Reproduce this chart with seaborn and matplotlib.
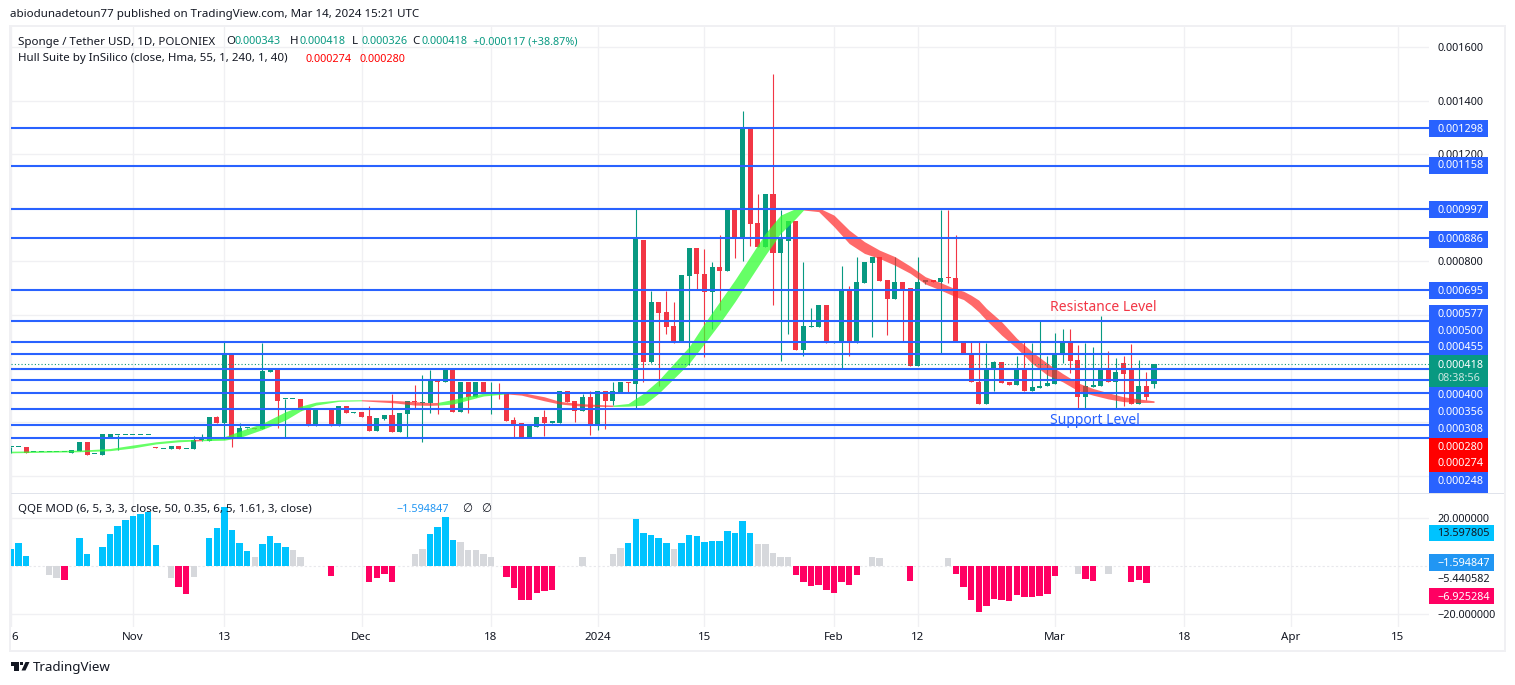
import numpy as np
import pandas as pd
import matplotlib
matplotlib.use("Agg")
import matplotlib.pyplot as plt
from matplotlib.patches import Rectangle, Polygon
import seaborn as sns

# all prices are in millionths of USDT, days count from Oct 16 2023
PRICE_UNIT = 1e-6

opens = [106, 106, 106, 88, 88, 88, 88, 88, 86, 94, 126, 80, 79, 143, 153, 154, 154, 154, 154, 106,
         101, 101, 111, 101, 101, 132, 131, 218, 198, 451, 140, 177, 177, 176, 387, 395, 285, 285, 285, 248,
         187, 246, 248, 187, 260, 236, 237, 223, 168, 212, 227, 165, 232, 279, 273, 273, 360, 352, 395, 239,
         351, 295, 351, 310, 310, 311, 208, 197, 143, 183, 218, 199, 198, 316, 279, 243, 294, 188, 316, 280,
         314, 349, 344, 881, 426, 647, 610, 559, 500, 747, 849, 755, 687, 778, 765, 998, 892, 1299, 943, 855,
         1052, 833, 876, 951, 471, 557, 557, 636, 498, 497, 694, 497, 721, 796, 816, 731, 661, 723, 701, 411,
         725, 726, 724, 738, 738, 500, 457, 352, 269, 397, 423, 350, 340, 395, 318, 329, 336, 344, 456, 500,
         432, 295, 331, 336, 401, 352, 420, 396, 269, 335, 343]
highs = [106, 107, 106, 88, 88, 88, 88, 88, 96, 126, 126, 81, 156, 156, 154, 154, 154, 154, 154, 106,
         102, 111, 111, 102, 148, 156, 219, 223, 499, 451, 196, 178, 177, 497, 395, 395, 285, 285, 285, 248,
         246, 246, 248, 260, 260, 237, 237, 260, 216, 227, 305, 233, 279, 339, 375, 395, 360, 395, 395, 351,
         351, 351, 351, 351, 345, 311, 218, 197, 186, 218, 244, 200, 316, 316, 279, 304, 315, 316, 316, 351,
         351, 349, 996, 881, 691, 647, 690, 647, 749, 849, 849, 845, 798, 897, 998, 998, 1361, 1299, 1050, 1052,
         1499, 992, 951, 951, 798, 626, 636, 636, 499, 783, 708, 816, 798, 816, 816, 731, 816, 723, 701, 816,
         726, 726, 992, 992, 897, 500, 502, 502, 497, 427, 423, 350, 447, 505, 497, 580, 447, 533, 548, 548,
         488, 497, 481, 595, 466, 439, 447, 492, 432, 387, 418]
lows = [86, 106, 86, 88, 88, 88, 88, 88, 86, 94, 79, 80, 79, 143, 96, 153, 153, 153, 153, 105,
        101, 101, 101, 101, 101, 131, 131, 198, 136, 109, 140, 176, 176, 176, 387, 180, 143, 285, 247, 187,
        187, 246, 187, 187, 234, 236, 219, 168, 168, 208, 165, 165, 140, 248, 127, 236, 232, 352, 239, 239,
        236, 295, 308, 232, 287, 206, 143, 143, 143, 183, 148, 199, 198, 277, 202, 243, 153, 172, 176, 263,
        314, 308, 249, 351, 420, 336, 530, 494, 500, 413, 696, 445, 549, 620, 765, 814, 802, 859, 855, 855,
        639, 430, 530, 471, 449, 557, 557, 497, 497, 402, 449, 497, 721, 519, 728, 527, 661, 500, 411, 411,
        717, 724, 458, 721, 500, 456, 351, 269, 269, 318, 347, 340, 340, 318, 318, 329, 336, 344, 422, 385,
        249, 249, 331, 336, 352, 249, 262, 269, 269, 283, 326]
closes = [106, 107, 86, 88, 88, 88, 88, 88, 96, 126, 79, 81, 156, 156, 154, 154, 154, 154, 154, 105,
          102, 111, 101, 102, 134, 134, 219, 198, 451, 139, 177, 178, 176, 390, 395, 280, 285, 285, 247, 187,
          246, 246, 187, 260, 234, 237, 219, 168, 216, 227, 165, 233, 279, 277, 274, 360, 352, 395, 239, 351,
          295, 351, 308, 310, 307, 206, 193, 143, 186, 218, 198, 200, 316, 277, 243, 294, 188, 316, 279, 316,
          351, 348, 884, 426, 647, 609, 556, 500, 749, 849, 754, 687, 778, 765, 998, 892, 1299, 941, 855, 1052,
          833, 885, 951, 471, 559, 558, 636, 497, 499, 694, 497, 723, 798, 816, 728, 661, 723, 696, 411, 723,
          726, 725, 738, 737, 500, 456, 351, 269, 398, 425, 347, 340, 397, 318, 330, 337, 346, 456, 500, 429,
          295, 335, 339, 401, 352, 387, 381, 269, 335, 294, 418]

hull_days = [0, 9, 13, 16, 19, 22, 24, 25, 28, 30, 33, 36, 38, 40, 43, 46, 50, 53, 55, 56, 58, 60, 62, 65,
             67, 70, 72, 75, 78, 79, 81, 83, 85, 87, 89, 91, 93, 95, 97, 99, 101, 103, 104, 106, 108, 110,
             112, 114, 116, 118, 120, 122, 124, 125, 126, 127, 128, 130, 132, 134, 136, 138, 140, 142, 144,
             146, 148, 150]
hull_top = [92, 96, 102, 115, 127, 135, 136, 136, 146, 167, 196, 239, 260, 275, 283, 284, 282, 277, 273, 274, 285,
            298, 308, 313, 311, 295, 278, 269, 265, 264, 270, 308, 357, 420, 482, 569, 650, 731, 818, 905, 973,
            998, 1000, 1000, 973, 917, 874, 842, 818, 783, 743, 721, 697, 689, 674, 656, 625, 575, 513, 463, 420,
            382, 347, 326, 310, 295, 287, 280]
hull_bot = [86, 90, 94, 104, 119, 127, 130, 131, 133, 143, 173, 208, 242, 264, 278, 280, 273, 264, 263, 264, 268,
            283, 298, 306, 301, 280, 268, 260, 259, 259, 260, 264, 308, 364, 420, 494, 569, 650, 737, 824, 905,
            961, 992, 986, 930, 867, 830, 811, 786, 756, 716, 693, 668, 658, 637, 612, 581, 525, 476, 420, 376,
            351, 318, 301, 287, 277, 274, 274]
hull_colors = ["g"] * 6 + ["r"] + ["g"] * 8 + ["r"] * 4 + ["g"] * 4 + ["r"] * 6 + ["g"] * 13 + ["r"] * 26

level_prices = [1298, 1158, 997, 886, 695, 577, 500, 455, 400, 356, 308, 248, 189, 140]

# QQE histogram, day by day, None where nothing is drawn
qqe_values = [7.2, 9.7, 4.3, None, None, -3.6, -4.8, -5.7, None, 11.7, 5.1, None, 8.0, 13.4, 16.7, 19.2, 20.8,
              21.7, 22.6, 8.8, None, -4.8, -8.6, -11.5, -4.4, None, 11.7, 15.9, 24.6, 15.0, 9.7, 6.3, 3.9, 9.2,
              12.6, 9.7, 8.0, 6.8, 3.9, None, None, None, -4.0, None, None, None, None, -6.5, -4.8, -3.2, -6.5,
              None, None, 5.1, 7.2, 13.4, 16.3, 20.4, 10.9, 10.1, 6.8, 6.8, 5.1, 3.9, None, -4.4, -9.0, -13.9,
              -13.9, -11.0, -10.2, -9.8, None, None, None, 3.9, None, None, None, 5.1, 7.6, 9.7, 19.6, 13.8, 13.0,
              11.7, 9.7, 7.2, 9.7, 13.0, 12.6, 10.1, 10.5, 10.5, 14.6, 13.8, 18.8, 13.8, 9.2, 9.2, 5.5, 3.9, 3.9,
              -3.6, -6.5, -8.1, -7.7, -9.8, -11.0, -6.5, -7.7, -3.6, None, 3.9, 3.4, None, None, None, -6.1, None,
              None, None, None, 3.4, -3.2, -8.6, -13.9, -18.9, -16.4, -13.5, -13.9, -14.4, -11.9, -12.7, -12.7,
              -12.3, -11.5, -4.0, None, None, -3.2, -5.2, -6.1, None, -3.2, None, None, -6.5, -5.7, -6.9, None]
qqe_grey_days = [5, 6, 21, 24, 32, 37, 38, 53, 54, 59, 60, 61, 62, 63, 75, 79, 80, 87, 98, 99, 100, 101, 102, 113,
                 114, 123, 140, 144]

tick_days = [0, 16, 28, 46, 63, 77, 91, 108, 119, 137, 154, 168, 182]
tick_labels = ["6", "Nov", "13", "Dec", "18", "2024", "15", "Feb", "12", "Mar", "18", "Apr", "15"]

GREEN = "#089981"
RED = "#f23645"
BLUE = "#2962ff"
INK = "#131722"
GRID = "#f0f0f3"
W, H = 1515, 685
PX_PER_DAY = 7.62
NUM_SIZE = 7.8

sns.set_theme(style="white")
plt.rcParams["font.family"] = ["Noto Sans", "DejaVu Sans"]
plt.rcParams["font.size"] = 8.3


def rect(left, top, right, bottom):
    return [left / W, 1 - bottom / H, (right - left) / W, (bottom - top) / H]


def ftext(x, y, s, color=INK, **kw):
    kw.setdefault("va", "center")
    kw.setdefault("zorder", 7)
    return fig.text(x / W, 1 - (y + 1) / H, s, color=color, **kw)


def nums(x, y, s, color=INK):
    return ftext(x, y, s, color, fontsize=NUM_SIZE)


def fbox(left, top, right, bottom, color):
    fig.add_artist(Rectangle((left / W, 1 - bottom / H), (right - left) / W, (bottom - top) / H,
                             transform=fig.transFigure, facecolor=color, edgecolor="none", zorder=5))


def draw_candles(ax, df):
    colors = np.where(df["close"] >= df["open"], GREEN, RED)
    low = df[["open", "close"]].min(axis=1)
    height = np.maximum((df["close"] - df["open"]).abs(), 4 * PRICE_UNIT)
    ax.vlines(df["day"], df["low"], df["high"], colors=colors, linewidth=0.8, zorder=3)
    ax.bar(df["day"], height, bottom=low, width=0.66, color=colors, linewidth=0, zorder=3)


def draw_hull(ax):
    days = np.array(hull_days)
    top = np.array(hull_top) * PRICE_UNIT
    bot = np.array(hull_bot) * PRICE_UNIT
    start = 0
    for k in range(1, len(days)):
        if k == len(days) - 1 or hull_colors[k] != hull_colors[start]:
            up = hull_colors[start] == "g"
            ax.fill_between(days[start:k + 1], bot[start:k + 1], top[start:k + 1],
                            color="#33ff33" if up else "#ff2a2a", alpha=0.75 if up else 0.7,
                            linewidth=0, zorder=4)
            start = k


prices = pd.DataFrame({"open": opens, "high": highs, "low": lows, "close": closes}) * PRICE_UNIT
prices["day"] = np.arange(len(prices))

fig = plt.figure(figsize=(W / 100, H / 100), dpi=100, facecolor="white")
ax = fig.add_axes(rect(11, 27, 1429, 493))
sub = fig.add_axes(rect(11, 494, 1429, 627))

day_max = (1429 - 11) / PX_PER_DAY
ax.set_xlim(0, day_max)
sub.set_xlim(0, day_max)
ax.set_ylim(-64 * PRICE_UNIT, 1675 * PRICE_UNIT)
sub.set_ylim(-25.3, 29.9)

for a in (ax, sub):
    a.set_facecolor("white")
    a.set_xticks(tick_days)
    a.grid(True, color=GRID, linewidth=1)
    a.set_axisbelow(True)
    a.yaxis.tick_right()
    for s in a.spines.values():
        s.set_visible(False)

# price pane, the other round ticks sit behind the level labels
grid_prices = np.arange(0, 1601, 200)
ax.set_yticks(grid_prices * PRICE_UNIT)
ax.set_yticklabels([f"{v * PRICE_UNIT:.6f}" if v in (800, 1200, 1400, 1600) else "" for v in grid_prices])
ax.tick_params(axis="y", length=0, pad=5.8, labelsize=NUM_SIZE, labelcolor=INK)
ax.tick_params(axis="x", length=0, labelbottom=False)
draw_candles(ax, prices)
draw_hull(ax)
ax.hlines(np.array(level_prices) * PRICE_UNIT, 0, day_max, color=BLUE, linewidth=1.5, zorder=5)
ax.axhline(418 * PRICE_UNIT, color=GREEN, linewidth=0.8, linestyle=(0, (1, 2)), zorder=5)
ax.text(136.3, 627 * PRICE_UNIT, "Resistance Level", color=RED, fontsize=10, va="center", zorder=6)
ax.text(136.3, 205 * PRICE_UNIT, "Support Level", color=BLUE, fontsize=10, va="center", zorder=6)

# QQE pane
qqe = pd.DataFrame({"day": np.arange(len(qqe_values)), "qqe": qqe_values}).dropna()
qqe["kind"] = np.where(qqe["day"].isin(qqe_grey_days), "flat", np.where(qqe["qqe"] > 0, "up", "down"))
sns.barplot(data=qqe, x="day", y="qqe", hue="kind", ax=sub, native_scale=True, dodge=False,
            palette={"flat": "#d6d8dc", "up": "#00c3ff", "down": "#ff0062"}, width=0.85, saturation=1,
            legend=False, linewidth=0, zorder=3)
sub.set_xlim(0, day_max)
sub.set_xlabel("")
sub.set_ylabel("")
sub.axhline(0, color="#e8e8ec", linewidth=0.8, linestyle=(0, (2, 2)), zorder=2)
sub.set_yticks([-20, 20])
sub.set_yticklabels(["\u221220.000000", "20.000000"])
sub.tick_params(axis="y", length=0, pad=5.8, labelsize=NUM_SIZE, labelcolor=INK)
sub.tick_params(axis="x", length=0, pad=3.5, labelsize=8.3, labelcolor=INK)
sub.set_xticks(tick_days)
sub.set_xticklabels(tick_labels)
sub.get_xticklabels()[0].set_ha("left")
for lab in sub.get_xticklabels():
    if lab.get_text() == "2024":
        lab.set_fontweight("bold")

# frame
fbox(9, 25, 1506, 27, GRID)
fbox(9, 25, 11, 652, GRID)
fbox(1504, 25, 1506, 652, GRID)
fbox(9, 650, 1506, 652, GRID)
fbox(11, 493, 1504, 494, "#e0e3eb")

# price scale labels
fbox(1429, 120, 1488, 137, BLUE)
nums(1437, 128, "0.001298", "white")
fbox(1429, 157, 1488, 174, BLUE)
nums(1437, 165, "0.001158", "white")
fbox(1429, 201, 1488, 218, BLUE)
nums(1437, 209, "0.000997", "white")
fbox(1429, 231, 1488, 248, BLUE)
nums(1437, 239, "0.000886", "white")
fbox(1429, 282, 1488, 299, BLUE)
nums(1437, 290, "0.000695", "white")
fbox(1429, 305, 1488, 355, BLUE)
nums(1437, 313, "0.000577", "white")
nums(1437, 330, "0.000500", "white")
nums(1437, 347, "0.000455", "white")
fbox(1429, 355, 1488, 387, GREEN)
nums(1437, 364, "0.000418", "white")
nums(1437, 378, "08:38:56", "#c8e6e0")
fbox(1429, 387, 1488, 438, BLUE)
nums(1437, 395, "0.000400", "white")
nums(1437, 412, "0.000356", "white")
nums(1437, 429, "0.000308", "white")
fbox(1429, 438, 1488, 472, "#ff0000")
nums(1437, 446, "0.000280", "white")
nums(1437, 463, "0.000274", "white")
fbox(1429, 472, 1488, 493, BLUE)
nums(1437, 480, "0.000248", "white")

fbox(1429, 525, 1494, 541, "#00c3ff")
nums(1437, 533, "13.597805")
fbox(1429, 554, 1494, 571, "#2196f3")
nums(1437, 562, "\u22121.594847", "white")
nums(1437, 579, "\u22125.440582")
fbox(1429, 588, 1494, 604, "#ff0062")
nums(1437, 596, "\u22126.925284", "white")

# header and legends
ftext(10, 14, "abiodunadetoun77 published on TradingView.com, Mar 14, 2024 15:21 UTC")
ftext(18, 41, "Sponge / Tether USD, 1D, POLONIEX")
for x, letter, val in [(226, "O", "0.000343"), (290, "H", "0.000418"), (352, "L", "0.000326"), (412, "C", "0.000418")]:
    ftext(x, 41, letter)
    nums(x + 9, 41, val, GREEN)
nums(473, 41, "+0.000117 (+38.87%)", GREEN)
ftext(18, 58, "Hull Suite by InSilico (close, Hma, 55, 1, 240, 1, 40)")
nums(305, 58, "0.000274", "#ff0000")
nums(360, 58, "0.000280", "#ff0000")
ftext(18, 508, "QQE MOD (6, 5, 3, 3, close, 50, 0.35, 6, 5, 1.61, 3, close)")
nums(396, 508, "\u22121.594847", "#2196f3")
ftext(462, 508, "\u2205")
ftext(481, 508, "\u2205")


def logo(points):
    fig.add_artist(Polygon([(x / W, 1 - y / H) for x, y in points], transform=fig.transFigure,
                           facecolor=INK, edgecolor="none"))


# footer logo
logo([(10.5, 662), (19, 662), (19, 670.5), (14.5, 670.5), (14.5, 666), (10.5, 666)])
logo([(20, 662), (22.5, 662), (22.5, 664.5), (20, 664.5)])
logo([(21.5, 670.5), (25.5, 662), (29.5, 662), (25.5, 670.5)])
ftext(33, 666.5, "TradingView", fontsize=9.6)

fig.savefig("out.png", dpi=100, facecolor="white")
